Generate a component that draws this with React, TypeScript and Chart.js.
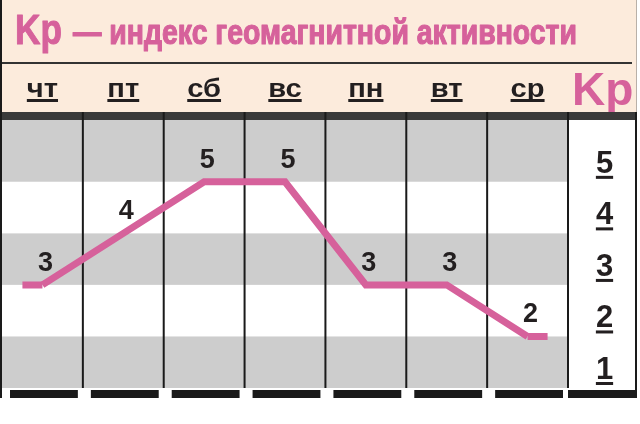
import { useEffect, useRef } from 'react';
import { Chart, registerables } from 'chart.js';

Chart.register(...registerables);

// данные
const days = ['чт', 'пт', 'сб', 'вс', 'пн', 'вт', 'ср'];
const kpValues = [3, 4, 5, 5, 3, 3, 2];
const kpTicks = [5, 4, 3, 2, 1];
const titleKp = 'Kp';
const titleText = '— индекс геомагнитной активности';
const axisTitle = 'Kp';

const PINK = '#d6619b';
const CREAM = '#fcebdc';
const GRAY = '#cdcdcd';
const INK = '#231f20';
const FONT = '"Liberation Sans", Arial, sans-serif';

// текст, сжатый/растянутый по ширине
function fitText(ctx: CanvasRenderingContext2D, text: string, x: number, y: number, width: number, bold = 0) {
  const w = ctx.measureText(text).width;
  ctx.save();
  ctx.translate(x, y);
  ctx.scale(width / w, 1);
  ctx.textAlign = 'left';
  ctx.fillText(text, 0, 0);
  if (bold) {
    ctx.lineWidth = bold;
    ctx.strokeStyle = ctx.fillStyle;
    ctx.lineJoin = 'round';
    ctx.strokeText(text, 0, 0);
  }
  ctx.restore();
}

function underlined(ctx: CanvasRenderingContext2D, text: string, cx: number, base: number, gap: number, thick: number, sx = 1) {
  const w = ctx.measureText(text).width * sx;
  ctx.save();
  ctx.translate(cx - w / 2, base);
  ctx.scale(sx, 1);
  ctx.textAlign = 'left';
  ctx.fillText(text, 0, 0);
  ctx.restore();
  ctx.fillRect(cx - w / 2, base + gap, w, thick);
}

const framePlugin = {
  id: 'frame',
  beforeDraw(chart: any) {
    const { ctx, chartArea } = chart;
    const { left, right, top, bottom } = chartArea;
    const xs = chart.scales.x;
    const ys = chart.scales.y;
    const colW = (right - left) / days.length;
    const W = 637;

    ctx.save();
    ctx.fillStyle = '#fff';
    ctx.fillRect(0, 0, chart.width, chart.height);

    // шапка
    ctx.fillStyle = CREAM;
    ctx.fillRect(0, 0, W, top - 8);
    ctx.fillStyle = '#333';
    ctx.fillRect(0, 62, 632, 2);
    ctx.fillStyle = '#b9b0a8';
    ctx.fillRect(W - 1, 0, 1, top - 8);

    ctx.fillStyle = PINK;
    ctx.textBaseline = 'alphabetic';
    ctx.font = `bold 42px ${FONT}`;
    fitText(ctx, titleKp, 15, 44, 47, 1);
    ctx.font = `bold 35px ${FONT}`;
    fitText(ctx, titleText, 73, 44, 504, 1.2);

    ctx.font = `bold 46px ${FONT}`;
    ctx.textAlign = 'left';
    ctx.fillText(axisTitle, 572, 105);

    ctx.fillStyle = INK;
    ctx.font = `bold 26px ${FONT}`;
    days.forEach((d, i) => {
      underlined(ctx, d, xs.getPixelForValue(i), 97, 2, 3, 1.12);
    });

    // полосы
    const yMax = ys.max;
    kpTicks.forEach((v) => {
      const hi = Math.min(v + 1, yMax);
      const y0 = ys.getPixelForValue(hi);
      const y1 = ys.getPixelForValue(v);
      ctx.fillStyle = v === kpTicks[0] || v % 2 === 1 ? GRAY : '#fff';
      if (v === kpTicks[0]) {
        ctx.fillRect(left, top, right - left, y1 - top);
      } else {
        ctx.fillRect(left, y0, right - left, y1 - y0);
      }
    });

    // тёмная полоса
    ctx.fillStyle = '#3a3a3a';
    ctx.fillRect(0, top - 8, W, 8);

    // вертикальные линии
    ctx.fillStyle = '#1a1a1a';
    ctx.fillRect(0, 0, 2, bottom + 10);
    for (let i = 1; i <= days.length; i++) {
      const x = left + i * colW;
      ctx.fillRect(x - 1, top - 8, 2, bottom - top + 8);
    }
    ctx.fillRect(W - 2, top - 8, 2, bottom - top + 18);

    // нижние штрихи
    for (let i = 0; i < days.length; i++) {
      const x0 = left + i * colW + 8;
      const x1 = left + (i + 1) * colW - 5;
      ctx.fillRect(x0, bottom + 2, x1 - x0, 8);
    }
    ctx.fillRect(right, bottom + 2, W - right, 8);

    // шкала справа
    ctx.fillStyle = INK;
    ctx.font = `bold 31px ${FONT}`;
    const cx = (right + W) / 2 + 2;
    kpTicks.forEach((v) => {
      underlined(ctx, String(v), cx, ys.getPixelForValue(v) - 9, 3, 3);
    });

    // хвосты линии
    const meta = chart.getDatasetMeta(0);
    const pts = meta.data;
    if (pts.length) {
      ctx.strokeStyle = PINK;
      ctx.lineWidth = 7;
      ctx.lineCap = 'butt';
      ctx.beginPath();
      ctx.moveTo(pts[0].x - 20, pts[0].y);
      ctx.lineTo(pts[0].x, pts[0].y);
      const last = pts[pts.length - 1];
      ctx.moveTo(last.x, last.y);
      ctx.lineTo(last.x + 20, last.y);
      ctx.stroke();
    }
    ctx.restore();
  },
  afterDatasetsDraw(chart: any) {
    const { ctx } = chart;
    const meta = chart.getDatasetMeta(0);
    ctx.save();
    ctx.fillStyle = INK;
    ctx.font = `bold 27px ${FONT}`;
    ctx.textAlign = 'center';
    ctx.textBaseline = 'alphabetic';
    meta.data.forEach((p: any, i: number) => {
      ctx.fillText(String(kpValues[i]), p.x + 3, p.y - 14);
    });
    ctx.restore();
  },
};

export default function App() {
  const canvasRef = useRef<HTMLCanvasElement>(null);

  useEffect(() => {
    const canvas = canvasRef.current;
    if (!canvas) return;

    const chart = new Chart(canvas, {
      type: 'line',
      data: {
        labels: days,
        datasets: [
          {
            data: kpValues,
            borderColor: PINK,
            borderWidth: 7,
            pointRadius: 0,
            tension: 0,
            borderJoinStyle: 'miter',
            borderCapStyle: 'butt',
          },
        ],
      },
      options: {
        responsive: false,
        animation: false,
        events: [],
        layout: { padding: { left: 2, right: 72, top: 120, bottom: 36 } },
        plugins: { legend: { display: false }, tooltip: { enabled: false } },
        scales: {
          x: { type: 'category', offset: true, display: false },
          y: { type: 'linear', min: 1, max: 6.2, display: false },
        },
      },
      plugins: [framePlugin],
    });

    return () => chart.destroy();
  }, []);

  return (
    <div style={{ position: 'absolute', left: 0, top: 0, width: 640, height: 424, background: '#fff' }}>
      <canvas ref={canvasRef} width={640} height={424} style={{ display: 'block' }} />
    </div>
  );
}
